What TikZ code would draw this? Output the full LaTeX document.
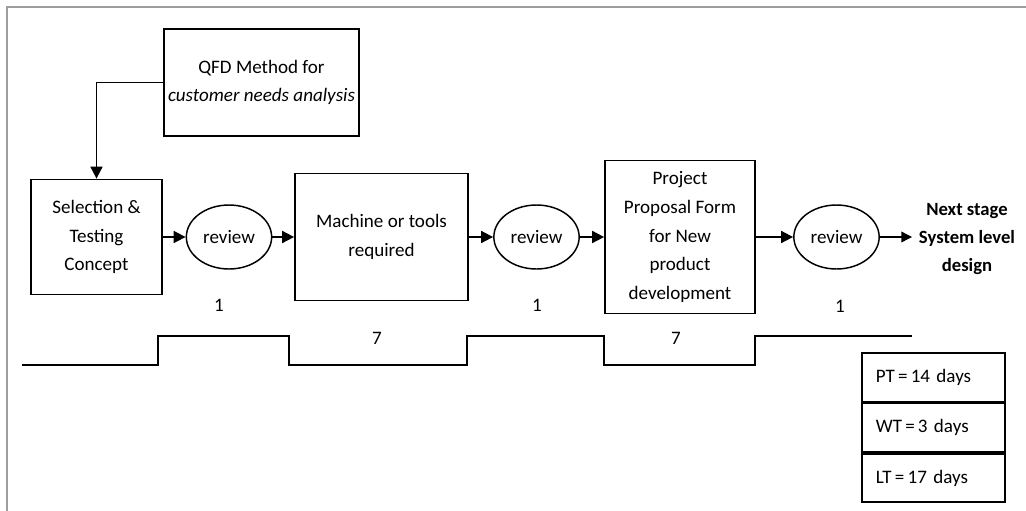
\documentclass[tikz,border=0pt]{standalone}
\usepackage{fontspec}
\setmainfont{Carlito}
\usetikzlibrary{arrows.meta,shapes.geometric}
\begin{document}
\begin{tikzpicture}[x=0.75pt,y=-0.75pt,
  every node/.style={font=\fontsize{14.3}{21.5}\selectfont, text=black},
  box/.style={draw, line width=1.3pt, rectangle, align=center, inner sep=2pt},
  rev/.style={draw, line width=1.1pt, ellipse, minimum width=64pt, minimum height=48pt, inner sep=0pt},
  arr/.style={line width=1.3pt, -{Triangle[length=9pt,width=9pt]}},
  cell/.style={draw, line width=1.3pt, rectangle, minimum width=107.25pt, minimum height=36.5pt,
    text width=86.25pt, align=left, inner xsep=10.5pt, inner ysep=0pt},
  lbl/.style={inner sep=0pt}
]
\useasboundingbox (0,0) rectangle (1026,511);
\fill[white] (0,0) rectangle (1026,511);
\draw[black!38, line width=1.5pt] (7,511) -- (7,7) -- (1026,7);

\node[box, minimum width=146.25pt, minimum height=80.25pt] (qfd) at (261.5,82.5)
  {QFD Method for\\\textit{customer needs analysis}};
\node[box, minimum width=98.25pt, minimum height=86.25pt] (sel) at (96.5,237)
  {Selection \&\\Testing\\Concept};
\node[rev] (r1) at (229,237) {review};
\node[box, minimum width=129.75pt, minimum height=95.25pt] (mach) at (381.5,237)
  {Machine or tools\\required};
\node[rev] (r2) at (536.5,237) {review};
\node[box, minimum width=112.5pt, minimum height=114.75pt] (proj) at (680,237)
  {Project\\Proposal Form\\for New\\product\\development};
\node[rev] (r3) at (836.5,237) {review};
\node[align=center, inner xsep=5pt, font=\fontsize{14}{21}\selectfont\bfseries] (next) at (967,239)
  {Next stage\\System level\\design};

\draw[arr] (qfd.west) -| (sel.north);
\draw[arr] (sel.east) -- (r1.west);
\draw[arr] (r1.east) -- (mach.west);
\draw[arr] (mach.east) -- (r2.west);
\draw[arr] (r2.east) -- (proj.west);
\draw[arr] (proj.east) -- (r3.west);
\draw[line width=1pt, -{Triangle[length=8pt,width=8pt]}] (r3.east) -- (r3.east -| next.west);

\node[lbl] (n1) at (219,305) {1};
\node[lbl] (n2) at (537,305) {1};
\node[lbl] (n3) at (840,306) {1};
\node[lbl] (s1) at (377,338) {7};
\node[lbl] (s2) at (676,338) {7};

\draw[line width=1.3pt] (22,365) -- (158,365) -- (158,336) -- (289,336) -- (289,365)
  -- (467,365) -- (467,336) -- (604,336) -- (604,365) -- (755,365) -- (755,336) -- (912,336);

\node[cell, anchor=north west] (pt) at (861,352) {PT\,=\,14 days};
\node[cell, anchor=north] (wt) at (pt.south) {WT\,=\,3 days};
\node[cell, anchor=north] (lt) at (wt.south) {LT\,=\,17 days};
\end{tikzpicture}
\end{document}
